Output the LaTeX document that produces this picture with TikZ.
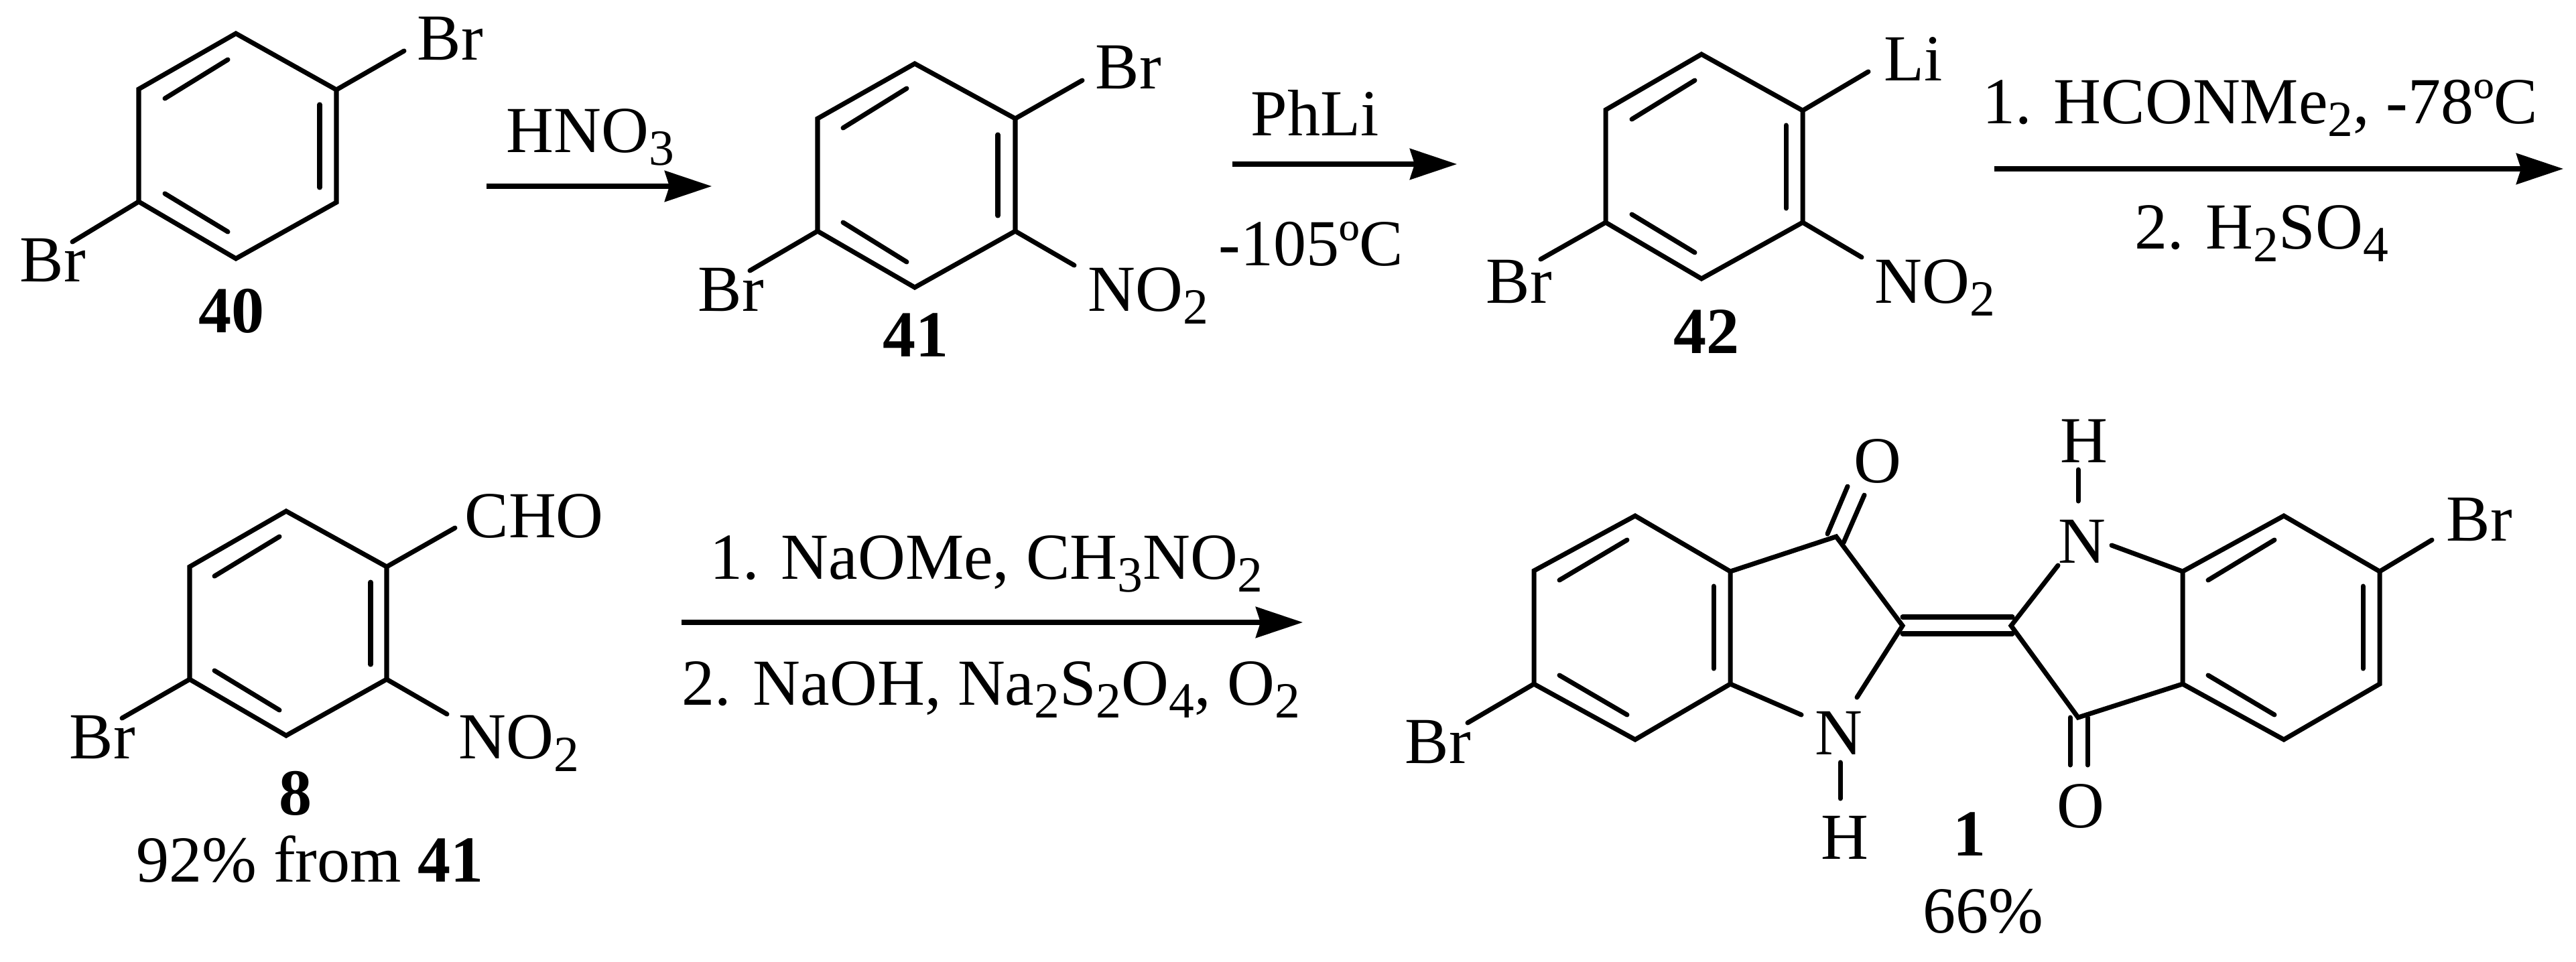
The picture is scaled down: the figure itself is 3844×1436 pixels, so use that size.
\documentclass[tikz,border=0pt]{standalone}
\usepackage{fontspec}
\setmainfont{Liberation Serif}
\usepackage{tikz}
\usetikzlibrary{arrows.meta}
\newcommand{\lowtxt}[1]{\raisebox{-19\dimexpr0.01cm\relax}{\fontsize{21.5}{21.5}\selectfont #1}}
\tikzset{
  bond/.style={black, line width=2pt, line cap=round, line join=miter},
  rxnarrow/.style={black, line width=2pt, -{Stealth[length=0.7cm,width=0.46cm,inset=0.07cm]}},
  txt/.style={anchor=base west, inner sep=0pt, font=\fontsize{27.9}{30}\selectfont},
}
\begin{document}
\begin{tikzpicture}[x=0.01cm, y=-0.01cm]
\useasboundingbox (0,0) rectangle (3844,1436);
% compound 40
\coordinate (a1) at (352,50);
\coordinate (a2) at (502,134);
\coordinate (a3) at (502,302);
\coordinate (a4) at (352,386);
\coordinate (a5) at (207,301);
\coordinate (a6) at (207,133);
\coordinate (a7) at (603,76);
\coordinate (a8) at (108,361);
\coordinate (a9) at (246,147);
\coordinate (a10) at (340,89);
\coordinate (a11) at (477,156);
\coordinate (a12) at (477,280);
\coordinate (a13) at (246,289);
\coordinate (a14) at (340,346);
\draw[bond] (a1) -- (a2) -- (a3) -- (a4) -- (a5) -- (a6) -- cycle;
\draw[bond] (a2) -- (a7);
\draw[bond] (a5) -- (a8);
\draw[bond] (a9) -- (a10);
\draw[bond] (a11) -- (a12);
\draw[bond] (a13) -- (a14);
\node[txt] (brA) at (622,89) {Br};
\node[txt] (brB) at (29,420) {Br};
\node[txt] (numA) at (296,496) {\textbf{40}};
% nitration
\coordinate (r1) at (726,278);
\coordinate (r2) at (1062,278);
\draw[rxnarrow] (r1) -- (r2);
\node[txt] (hno) at (755,227) {HNO\lowtxt{3}};
% compound 41
\coordinate (b1) at (1365,95);
\coordinate (b2) at (1515,177);
\coordinate (b3) at (1515,345);
\coordinate (b4) at (1365,429);
\coordinate (b5) at (1220,345);
\coordinate (b6) at (1220,177);
\coordinate (b7) at (1615,120);
\coordinate (b8) at (1119,404);
\coordinate (b9) at (1603,396);
\coordinate (b10) at (1258,191);
\coordinate (b11) at (1353,132);
\coordinate (b12) at (1489,201);
\coordinate (b13) at (1489,322);
\coordinate (b14) at (1258,332);
\coordinate (b15) at (1353,391);
\draw[bond] (b1) -- (b2) -- (b3) -- (b4) -- (b5) -- (b6) -- cycle;
\draw[bond] (b2) -- (b7);
\draw[bond] (b5) -- (b8);
\draw[bond] (b3) -- (b9);
\draw[bond] (b10) -- (b11);
\draw[bond] (b12) -- (b13);
\draw[bond] (b14) -- (b15);
\node[txt] (brC) at (1634,132) {Br};
\node[txt] (brD) at (1041,464) {Br};
\node[txt] (noA) at (1623,464) {NO\lowtxt{2}};
\node[txt] (numB) at (1317,532) {\textbf{41}};
% lithiation
\coordinate (r3) at (1839,245);
\coordinate (r4) at (2174,245);
\draw[rxnarrow] (r3) -- (r4);
\node[txt] (phli) at (1866,202) {PhLi};
\node[txt] (temA) at (1818,396) {-105ºC};
% compound 42
\coordinate (c1) at (2539,81);
\coordinate (c2) at (2690,165);
\coordinate (c3) at (2690,332);
\coordinate (c4) at (2539,416);
\coordinate (c5) at (2396,332);
\coordinate (c6) at (2396,164);
\coordinate (c7) at (2788,107);
\coordinate (c8) at (2299,387);
\coordinate (c9) at (2778,384);
\coordinate (c10) at (2435,178);
\coordinate (c11) at (2529,120);
\coordinate (c12) at (2665,187);
\coordinate (c13) at (2665,311);
\coordinate (c14) at (2435,320);
\coordinate (c15) at (2529,377);
\draw[bond] (c1) -- (c2) -- (c3) -- (c4) -- (c5) -- (c6) -- cycle;
\draw[bond] (c2) -- (c7);
\draw[bond] (c5) -- (c8);
\draw[bond] (c3) -- (c9);
\draw[bond] (c10) -- (c11);
\draw[bond] (c12) -- (c13);
\draw[bond] (c14) -- (c15);
\node[txt] (li) at (2811,120) {Li};
\node[txt] (brE) at (2217,452) {Br};
\node[txt] (noB) at (2797,452) {NO\lowtxt{2}};
\node[txt] (numC) at (2497,527) {\textbf{42}};
% formylation
\coordinate (r5) at (2976,252);
\coordinate (r6) at (3825,252);
\draw[rxnarrow] (r5) -- (r6);
\node[txt] (hcon) at (2958,184) {1. HCONMe\lowtxt{2}, -78ºC};
\node[txt] (acid) at (3185,371) {2. H\lowtxt{2}SO\lowtxt{4}};
% compound 8
\coordinate (d1) at (427,763);
\coordinate (d2) at (577,846);
\coordinate (d3) at (577,1014);
\coordinate (d4) at (427,1098);
\coordinate (d5) at (283,1014);
\coordinate (d6) at (283,846);
\coordinate (d7) at (679,788);
\coordinate (d8) at (182,1072);
\coordinate (d9) at (667,1066);
\coordinate (d10) at (320,860);
\coordinate (d11) at (417,801);
\coordinate (d12) at (553,869);
\coordinate (d13) at (553,992);
\coordinate (d14) at (320,1001);
\coordinate (d15) at (417,1060);
\draw[bond] (d1) -- (d2) -- (d3) -- (d4) -- (d5) -- (d6) -- cycle;
\draw[bond] (d2) -- (d7);
\draw[bond] (d5) -- (d8);
\draw[bond] (d3) -- (d9);
\draw[bond] (d10) -- (d11);
\draw[bond] (d12) -- (d13);
\draw[bond] (d14) -- (d15);
\node[txt] (cho) at (693,802) {CHO};
\node[txt] (brF) at (103,1132) {Br};
\node[txt] (noC) at (684,1132) {NO\lowtxt{2}};
\node[txt] (numD) at (416,1216) {\textbf{8}};
\node[txt] (yieldA) at (203,1316) {92\% from \textbf{41}};
% indigo formation
\coordinate (r7) at (1017,929);
\coordinate (r8) at (1944,929);
\draw[rxnarrow] (r7) -- (r8);
\node[txt] (naome) at (1059,864) {1. NaOMe, CH\lowtxt{3}NO\lowtxt{2}};
\node[txt] (naoh) at (1017,1052) {2. NaOH, Na\lowtxt{2}S\lowtxt{2}O\lowtxt{4}, O\lowtxt{2}};
% compound 1, left half
\coordinate (e1) at (2440,770);
\coordinate (e2) at (2582,853);
\coordinate (e3) at (2582,1021);
\coordinate (e4) at (2440,1104);
\coordinate (e5) at (2289,1021);
\coordinate (e6) at (2289,852);
\coordinate (e7) at (2740,801);
\coordinate (e8) at (2839,934);
\coordinate (e9) at (2771,1041);
\coordinate (e10) at (2688,1067);
\coordinate (e11) at (2746,1138);
\coordinate (e12) at (2746,1192);
\coordinate (e13) at (2190,1079);
\coordinate (e14) at (2727,797);
\coordinate (e15) at (2757,726);
\coordinate (e16) at (2751,810);
\coordinate (e17) at (2782,739);
\coordinate (e18) at (2327,866);
\coordinate (e19) at (2428,806);
\coordinate (e20) at (2557,875);
\coordinate (e21) at (2557,998);
\coordinate (e22) at (2327,1008);
\coordinate (e23) at (2428,1067);
\draw[bond] (e1) -- (e2) -- (e3) -- (e4) -- (e5) -- (e6) -- cycle;
\draw[bond] (e2) -- (e7) -- (e8) -- (e9);
\draw[bond] (e3) -- (e10);
\draw[bond] (e11) -- (e12);
\draw[bond] (e5) -- (e13);
\draw[bond] (e14) -- (e15);
\draw[bond] (e16) -- (e17);
\draw[bond] (e18) -- (e19);
\draw[bond] (e20) -- (e21);
\draw[bond] (e22) -- (e23);
\node[txt] (oA) at (2766,720) {O};
\node[txt] (nA) at (2708,1126) {N};
\node[txt] (hA) at (2717,1282) {H};
\node[txt] (brG) at (2096,1139) {Br};
\node[txt] (numE) at (2914,1277) {\textbf{1}};
\node[txt] (yieldB) at (2869,1392) {66\%};
% central double bond
\coordinate (m1) at (2839,921);
\coordinate (m2) at (3003,921);
\coordinate (m3) at (2839,946);
\coordinate (m4) at (3003,946);
\draw[bond] (m1) -- (m2);
\draw[bond] (m3) -- (m4);
% compound 1, right half
\coordinate (f1) at (3408,770);
\coordinate (f2) at (3551,853);
\coordinate (f3) at (3551,1021);
\coordinate (f4) at (3408,1104);
\coordinate (f5) at (3257,1021);
\coordinate (f6) at (3257,853);
\coordinate (f7) at (3101,1071);
\coordinate (f8) at (3001,934);
\coordinate (f9) at (3071,844);
\coordinate (f10) at (3151,814);
\coordinate (f11) at (3101,701);
\coordinate (f12) at (3101,748);
\coordinate (f13) at (3629,806);
\coordinate (f14) at (3089,1071);
\coordinate (f15) at (3089,1142);
\coordinate (f16) at (3115,1071);
\coordinate (f17) at (3115,1142);
\coordinate (f18) at (3295,866);
\coordinate (f19) at (3394,806);
\coordinate (f20) at (3526,875);
\coordinate (f21) at (3526,998);
\coordinate (f22) at (3295,1008);
\coordinate (f23) at (3394,1067);
\draw[bond] (f1) -- (f2) -- (f3) -- (f4) -- (f5) -- (f6) -- cycle;
\draw[bond] (f5) -- (f7) -- (f8) -- (f9);
\draw[bond] (f6) -- (f10);
\draw[bond] (f11) -- (f12);
\draw[bond] (f2) -- (f13);
\draw[bond] (f14) -- (f15);
\draw[bond] (f16) -- (f17);
\draw[bond] (f18) -- (f19);
\draw[bond] (f20) -- (f21);
\draw[bond] (f22) -- (f23);
\node[txt] (oB) at (3069,1235) {O};
\node[txt] (nB) at (3071,840) {N};
\node[txt] (hB) at (3074,690) {H};
\node[txt] (brH) at (3650,807) {Br};
\end{tikzpicture}
\end{document}
